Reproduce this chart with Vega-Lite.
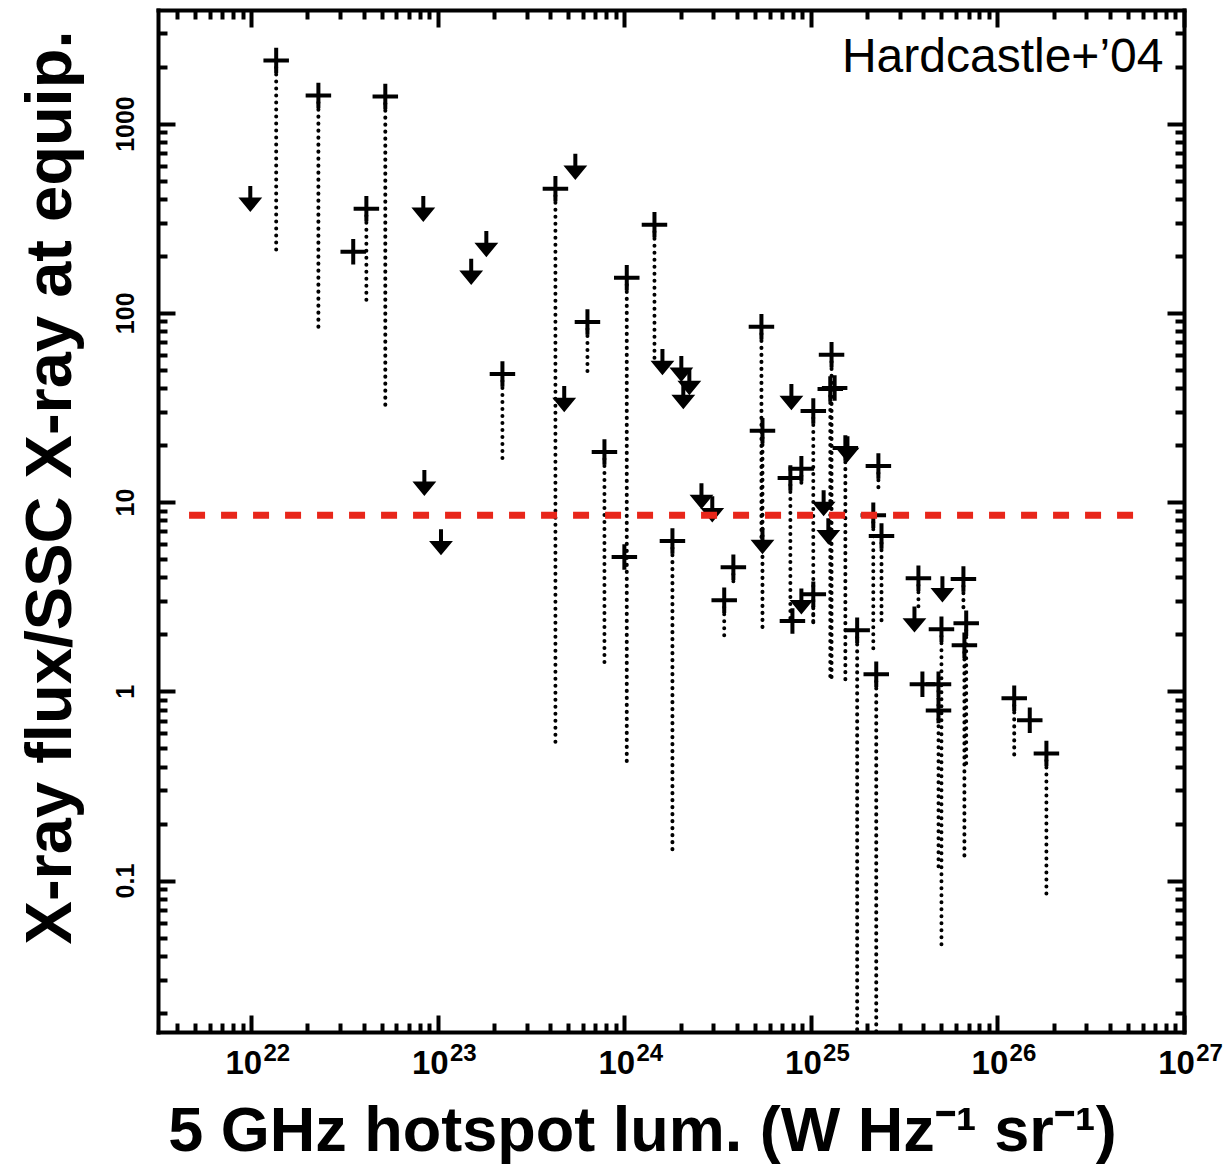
{
  "$schema": "https://vega.github.io/schema/vega-lite/v6.json",
  "width": 1026,
  "height": 1022,
  "autosize": {"type": "none"},
  "padding": {"left": 158, "top": 10, "right": 41, "bottom": 132},
  "background": "white",
  "config": {"view": {"stroke": null}},
  "datasets": {
    "det": [
      {"L": 1.36e22, "R": 2154, "Rlo": 215},
      {"L": 2.29e22, "R": 1406, "Rlo": 83.4},
      {"L": 5.23e22, "R": 1389, "Rlo": 31.8},
      {"L": 4.14e22, "R": 355, "Rlo": 113},
      {"L": 3.52e22, "R": 210, "Rlo": null},
      {"L": 4.27e23, "R": 453, "Rlo": 0.512},
      {"L": 2.22e23, "R": 47.5, "Rlo": 15.7},
      {"L": 1.45e24, "R": 292, "Rlo": 57.8},
      {"L": 1.03e24, "R": 153, "Rlo": 0.421},
      {"L": 6.34e23, "R": 89.5, "Rlo": 45.3},
      {"L": 7.82e23, "R": 18.4, "Rlo": 1.41},
      {"L": 1.0e24, "R": 5.12, "Rlo": null},
      {"L": 1.81e24, "R": 6.22, "Rlo": 0.1355},
      {"L": 3.84e24, "R": 4.53, "Rlo": 3.64},
      {"L": 3.43e24, "R": 3.03, "Rlo": 1.82},
      {"L": 5.43e24, "R": 84.3, "Rlo": 6.3},
      {"L": 5.50e24, "R": 23.8, "Rlo": 2.03},
      {"L": 1.29e25, "R": 60, "Rlo": 1.19},
      {"L": 1.27e25, "R": 39.6, "Rlo": 1.19},
      {"L": 1.34e25, "R": 40.1, "Rlo": null},
      {"L": 1.03e25, "R": 30.3, "Rlo": 2.32},
      {"L": 1.53e25, "R": 19.3, "Rlo": 1.10},
      {"L": 2.30e25, "R": 15.5, "Rlo": 11.6},
      {"L": 8.89e24, "R": 15.0, "Rlo": 11.9},
      {"L": 7.76e24, "R": 13.4, "Rlo": 2.35},
      {"L": 2.16e25, "R": 8.53, "Rlo": 1.59},
      {"L": 2.39e25, "R": 6.61, "Rlo": 2.29},
      {"L": 7.96e24, "R": 2.35, "Rlo": null},
      {"L": 1.03e25, "R": 3.26, "Rlo": 2.29},
      {"L": 1.77e25, "R": 2.10, "Rlo": 0.005},
      {"L": 2.24e25, "R": 1.23, "Rlo": 0.005},
      {"L": 3.77e25, "R": 3.96, "Rlo": 2.69},
      {"L": 6.57e25, "R": 3.92, "Rlo": 2.59},
      {"L": 5.01e25, "R": 2.13, "Rlo": 0.0453},
      {"L": 6.8e25, "R": 2.29, "Rlo": 0.396},
      {"L": 6.65e25, "R": 1.75, "Rlo": 0.1324},
      {"L": 3.96e25, "R": 1.09, "Rlo": null},
      {"L": 4.83e25, "R": 1.09, "Rlo": 0.1156},
      {"L": 4.83e25, "R": 0.792, "Rlo": null},
      {"L": 1.23e26, "R": 0.918, "Rlo": 0.453},
      {"L": 1.49e26, "R": 0.703, "Rlo": null},
      {"L": 1.83e26, "R": 0.470, "Rlo": 0.0804}
    ],
    "ul": [
      {"L": 9.88e21, "R": 405},
      {"L": 8.36e22, "R": 359},
      {"L": 1.82e23, "R": 234},
      {"L": 1.51e23, "R": 167},
      {"L": 5.46e23, "R": 599},
      {"L": 4.76e23, "R": 35.5},
      {"L": 1.60e24, "R": 55.7},
      {"L": 2.02e24, "R": 51.2},
      {"L": 2.23e24, "R": 43.6},
      {"L": 2.07e24, "R": 36.8},
      {"L": 7.86e24, "R": 36.4},
      {"L": 1.57e25, "R": 19.3},
      {"L": 1.17e25, "R": 10.0},
      {"L": 2.59e24, "R": 10.9},
      {"L": 2.96e24, "R": 9.29},
      {"L": 1.24e25, "R": 7.11},
      {"L": 5.50e24, "R": 6.30},
      {"L": 8.89e24, "R": 3.03},
      {"L": 8.47e22, "R": 12.8},
      {"L": 1.04e23, "R": 6.22},
      {"L": 3.59e25, "R": 2.43},
      {"L": 5.07e25, "R": 3.51}
    ],
    "ref": [{"L": 4.64e21, "L2": 5.36e26, "R": 8.53}],
    "lab": [{"L": 7.76e26, "R": 1862, "text": "Hardcastle+’04"}]
  },
  "resolve": {"axis": {"x": "independent", "y": "independent"}},
  "layer": [
    {
      "data": {"name": "det"},
      "transform": [{"filter": "datum.Rlo != null"}],
      "mark": {"type": "rule", "clip": true, "color": "black", "strokeWidth": 4, "strokeCap": "round", "strokeDash": [0.1, 6.9]},
      "encoding": {
        "x": {"field": "L", "type": "quantitative",
          "scale": {"type": "log", "domain": [3.16228e21, 1e27], "nice": false},
          "axis": {"orient": "bottom", "values": [1e22, 1e23, 1e24, 1e25, 1e26, 1e27], "labelExpr": "'10'",
            "tickSize": -17, "tickWidth": 4, "tickColor": "black", "domainWidth": 4, "domainColor": "black", "domainCap": "square",
            "grid": false, "labelFont": "Liberation Sans", "labelFontSize": 33, "labelFontWeight": "bold", "labelColor": "black",
            "labelPadding": 58, "labelBaseline": "alphabetic", "labelAlign": "center", "labelOffset": -8, "labelFlush": false, "labelOverlap": false,
            "title": "5 GHz hotspot lum. (W Hz⁻¹ sr⁻¹)", "titleFont": "Liberation Sans", "titleFontSize": 63, "titleFontWeight": "bold", "titleColor": "black",
            "titleX": 484, "titleY": 118, "titleBaseline": "alphabetic", "titleAlign": "center", "titleAnchor": null}},
        "y": {"field": "R", "type": "quantitative",
          "scale": {"type": "log", "domain": [0.0158489, 3981.07], "nice": false},
          "axis": {"orient": "left", "values": [0.1, 1, 10, 100, 1000], "labelExpr": "datum.value < 1 ? '0.1' : format(datum.value, 'd')",
            "tickSize": -17, "tickWidth": 4, "tickColor": "black", "domainWidth": 4, "domainColor": "black", "domainCap": "square",
            "grid": false, "labelFont": "Liberation Sans", "labelFontSize": 25, "labelFontWeight": "bold", "labelColor": "black",
            "labelAngle": -90, "labelAlign": "center", "labelBaseline": "alphabetic", "labelPadding": 42, "labelFlush": false, "labelOverlap": false,
            "title": "X-ray flux/SSC X-ray at equip.", "titleFont": "Liberation Sans", "titleFontSize": 65, "titleFontWeight": "bold", "titleColor": "black",
            "titleAngle": -90, "titleX": -88, "titleY": 477, "titleBaseline": "alphabetic", "titleAlign": "center", "titleAnchor": null}},
        "y2": {"field": "Rlo"}
      }
    },
    {
      "data": {"name": "det"},
      "mark": {"type": "point", "shape": "M-1,0L1,0M0,-1L0,1", "size": 650, "filled": false, "color": "black", "strokeWidth": 4, "opacity": 1, "clip": true},
      "encoding": {
        "x": {"field": "L", "type": "quantitative",
          "scale": {"type": "log", "domain": [3.16228e21, 1e27], "nice": false},
          "axis": {"orient": "bottom", "values": [4e21, 5e21, 6e21, 7e21, 8e21, 9e21, 2e22, 3e22, 4e22, 5e22, 6e22, 7e22, 8e22, 9e22, 2e23, 3e23, 4e23, 5e23, 6e23, 7e23, 8e23, 9e23, 2e24, 3e24, 4e24, 5e24, 6e24, 7e24, 8e24, 9e24, 2e25, 3e25, 4e25, 5e25, 6e25, 7e25, 8e25, 9e25, 2e26, 3e26, 4e26, 5e26, 6e26, 7e26, 8e26, 9e26],
            "labels": false, "domain": false, "grid": false, "tickSize": -9, "tickWidth": 4, "tickColor": "black", "title": null}},
        "y": {"field": "R", "type": "quantitative",
          "scale": {"type": "log", "domain": [0.0158489, 3981.07], "nice": false},
          "axis": {"orient": "left", "values": [0.02, 0.03, 0.04, 0.05, 0.06, 0.07, 0.08, 0.09, 0.2, 0.3, 0.4, 0.5, 0.6, 0.7, 0.8, 0.9, 2, 3, 4, 5, 6, 7, 8, 9, 20, 30, 40, 50, 60, 70, 80, 90, 200, 300, 400, 500, 600, 700, 800, 900, 2000, 3000],
            "labels": false, "domain": false, "grid": false, "tickSize": -9, "tickWidth": 4, "tickColor": "black", "title": null}}
      }
    },
    {
      "data": {"name": "ul"},
      "mark": {"type": "point", "shape": "M0,-1L0,0.25M-0.65,0.15L0.65,0.15L0,0.94Z", "size": 560, "filled": true, "color": "black", "stroke": "black", "strokeWidth": 4, "opacity": 1, "clip": true},
      "encoding": {
        "x": {"field": "L", "type": "quantitative",
          "scale": {"type": "log", "domain": [3.16228e21, 1e27], "nice": false},
          "axis": {"orient": "top", "values": [1e22, 1e23, 1e24, 1e25, 1e26, 1e27], "labels": false,
            "tickSize": -17, "tickWidth": 4, "tickColor": "black", "domainWidth": 4, "domainColor": "black", "domainCap": "square", "grid": false, "title": null}},
        "y": {"field": "R", "type": "quantitative",
          "scale": {"type": "log", "domain": [0.0158489, 3981.07], "nice": false},
          "axis": {"orient": "right", "values": [0.1, 1, 10, 100, 1000], "labels": false,
            "tickSize": -17, "tickWidth": 4, "tickColor": "black", "domainWidth": 4, "domainColor": "black", "domainCap": "square", "grid": false, "title": null}}
      }
    },
    {
      "data": {"name": "ref"},
      "mark": {"type": "rule", "color": "#E8261A", "strokeWidth": 7, "strokeDash": [16, 16], "strokeCap": "butt"},
      "encoding": {
        "x": {"field": "L", "type": "quantitative",
          "scale": {"type": "log", "domain": [3.16228e21, 1e27], "nice": false},
          "axis": {"orient": "top", "values": [4e21, 5e21, 6e21, 7e21, 8e21, 9e21, 2e22, 3e22, 4e22, 5e22, 6e22, 7e22, 8e22, 9e22, 2e23, 3e23, 4e23, 5e23, 6e23, 7e23, 8e23, 9e23, 2e24, 3e24, 4e24, 5e24, 6e24, 7e24, 8e24, 9e24, 2e25, 3e25, 4e25, 5e25, 6e25, 7e25, 8e25, 9e25, 2e26, 3e26, 4e26, 5e26, 6e26, 7e26, 8e26, 9e26],
            "labels": false, "domain": false, "grid": false, "tickSize": -9, "tickWidth": 4, "tickColor": "black", "title": null}},
        "x2": {"field": "L2"},
        "y": {"field": "R", "type": "quantitative",
          "scale": {"type": "log", "domain": [0.0158489, 3981.07], "nice": false},
          "axis": {"orient": "right", "values": [0.02, 0.03, 0.04, 0.05, 0.06, 0.07, 0.08, 0.09, 0.2, 0.3, 0.4, 0.5, 0.6, 0.7, 0.8, 0.9, 2, 3, 4, 5, 6, 7, 8, 9, 20, 30, 40, 50, 60, 70, 80, 90, 200, 300, 400, 500, 600, 700, 800, 900, 2000, 3000],
            "labels": false, "domain": false, "grid": false, "tickSize": -9, "tickWidth": 4, "tickColor": "black", "title": null}}
      }
    },
    {
      "data": {"name": "lab"},
      "mark": {"type": "text", "font": "Liberation Sans", "fontSize": 48, "align": "right", "baseline": "alphabetic", "color": "black"},
      "encoding": {
        "x": {"field": "L", "type": "quantitative",
          "scale": {"type": "log", "domain": [3.16228e21, 1e27], "nice": false},
          "axis": {"orient": "bottom", "values": [1e22, 1e23, 1e24, 1e25, 1e26, 1e27], "labelExpr": "format(round(log(datum.value) / LN10), 'd')",
            "ticks": false, "domain": false, "grid": false, "labelFont": "Liberation Sans", "labelFontSize": 24, "labelFontWeight": "bold", "labelColor": "black",
            "labelPadding": 28, "labelBaseline": "alphabetic", "labelAlign": "center", "labelOffset": 25, "labelFlush": false, "labelOverlap": false, "title": null}},
        "y": {"field": "R", "type": "quantitative",
          "scale": {"type": "log", "domain": [0.0158489, 3981.07], "nice": false},
          "axis": null},
        "text": {"field": "text"}
      }
    }
  ]
}
